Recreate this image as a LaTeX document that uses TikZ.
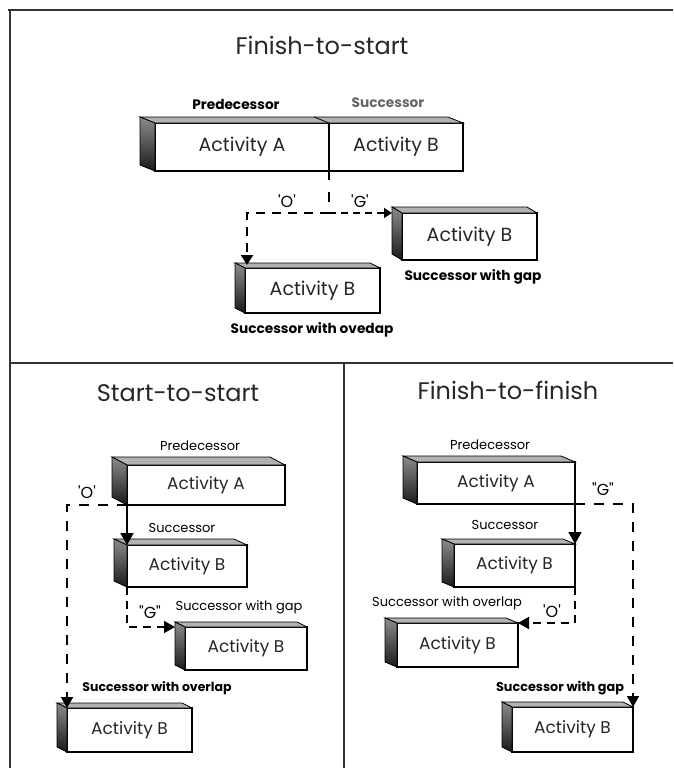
\documentclass[tikz,border=0pt]{standalone}
\usepackage{fontspec}
\setmainfont{Poppins}
\usetikzlibrary{arrows.meta}

% top and left faces of a 3-D activity bar; #1 front node, #2/#3 depth offset
\newcommand\barfaces[3]{%
  \draw[topface] (#1.north west) -- (#1.north east) -- ++(-#2,-#3)
    -- ([shift={(-#2,-#3)}]#1.north west) -- cycle;
  \draw[sideface] (#1.north west) -- (#1.south west) -- ++(-#2,-#3)
    -- ([shift={(-#2,-#3)}]#1.north west) -- cycle;
}

\begin{document}
\begin{tikzpicture}[x=1pt,y=-1pt,
  frame/.style={line width=1.6pt, black!80},
  front/.style={draw, line width=1.1pt, fill=white, inner sep=0pt, outer sep=0pt,
    font=\fontsize{17}{17}\selectfont, text=black!85},
  bigtext/.style={font=\fontsize{19}{19}\selectfont},
  topface/.style={draw, line width=0.8pt, fill=black!30},
  sideface/.style={draw, line width=0.8pt, top color=black!45, bottom color=black!90},
  title/.style={font=\fontsize{24}{24}\selectfont, text=black!85},
  lab/.style={font=\fontsize{13}{13}\selectfont, text=black},
  blab/.style={font=\bfseries\fontsize{13.7}{13.7}\selectfont},
  qlab/.style={font=\fontsize{16}{16}\selectfont, text=black},
  link/.style={line width=1.8pt, -{Triangle[width=13pt,length=12pt]}},
  olink/.style={line width=2.2pt, dash pattern=on 9pt off 7pt, -{Triangle[width=12pt,length=10pt]}},
  glink/.style={line width=1.3pt, dash pattern=on 7pt off 5pt, -{Triangle[width=10pt,length=8pt]}},
  dlink/.style={line width=1.9pt, dash pattern=on 10pt off 9pt, -{Triangle[width=12pt,length=11pt]}},
]
\useasboundingbox (0,0) rectangle (673,768);

% panel frames
\draw[frame] (8,10) -- (673,10);
\draw[frame] (10,10) -- (10,768);
\draw[frame] (10,363) -- (673,363);
\draw[frame] (344,363) -- (344,768);

% ---------------- Finish-to-start ----------------
\node[title] (fsT) at (322,45) {Finish-to-start};
\node[blab] (fsPre) at (236,104) {Predecessor};
\node[blab, text=black!60] (fsSuc) at (388,103) {Successor};

\node[front, bigtext, minimum width=174, minimum height=48] (fsA) at (242,147) {Activity A};
\node[front, bigtext, minimum width=134, minimum height=48] (fsB) at (396,147) {Activity B};
\draw[topface] (fsA.north west) -- (fsB.north east) -- ++(-15,-6)
  -- ([shift={(-15,-6)}]fsA.north west) -- cycle;
\draw[line width=0.8pt] (fsA.north east) -- ++(-15,-6);
\draw[sideface] (fsA.north west) -- (fsA.south west) -- ++(-15,-6)
  -- ([shift={(-15,-6)}]fsA.north west) -- cycle;

\node[front, bigtext, minimum width=135, minimum height=47] (fsG) at (469.5,236.5) {Activity B};
\barfaces{fsG}{10}{6}
\node[front, bigtext, minimum width=135, minimum height=45] (fsO) at (312.5,290.5) {Activity B};
\barfaces{fsO}{10}{5}

\node[qlab] (fsOq) at (287,201) {\textquotesingle O\textquotesingle};
\node[qlab] (fsGq) at (360,201) {\textquotesingle G\textquotesingle};
\node[blab] (fsGl) at (473,277) {Successor with gap};
\node[blab] (fsOl) at (312,330) {Successor with ovedap};

\coordinate (fsJ) at (fsA.south east |- fsG.north west);
\draw[line width=1.8pt, dash pattern=on 9pt off 12pt on 10pt off 11pt] (fsA.south east) -- (fsJ);
\draw[olink] (fsJ) -| ([shift={(2,-3)}]fsO.north west);
\draw[glink] (fsJ) -- ([shift={(-10,0)}]fsG.north west);

% ---------------- Start-to-start ----------------
\node[title] (ssT) at (178,393) {Start-to-start};
\node[lab] (ssPre) at (200,446) {Predecessor};
\node[front, minimum width=158, minimum height=40] (ssA) at (206,485) {Activity A};
\barfaces{ssA}{15}{8}
\node[lab] (ssSuc) at (182,528) {Successor};
\node[front, minimum width=120, minimum height=42] (ssB) at (187,566) {Activity B};
\barfaces{ssB}{13}{6}
\node[lab] (ssGl) at (239,607) {Successor with gap};
\node[front, minimum width=122, minimum height=43] (ssG) at (246,648.5) {Activity B};
\barfaces{ssG}{10}{5}
\node[blab, font=\bfseries\fontsize{12.5}{12.5}\selectfont] (ssOl) at (157,688)
  {Successor with overlap};
\node[front, minimum width=125, minimum height=44] (ssO) at (129.5,730) {Activity B};
\barfaces{ssO}{10}{5}

\node[qlab] (ssOq) at (87,492) {\textquotesingle O\textquotesingle};
\node[qlab] (ssGq) at (150,612) {\textquotedbl G\textquotedbl};

\draw[link] (ssA.south west) -- (ssB.north west);
\draw[dlink] (ssA.south west) -| (ssO.north west);
\draw[dlink, line width=1.6pt, dash pattern=on 8pt off 6pt] (ssB.south west) |- ([shift={(-10,0)}]ssG.north west);

% ---------------- Finish-to-finish ----------------
\node[title] (ffT) at (508,390) {Finish-to-finish};
\node[lab] (ffPre) at (490,445) {Predecessor};
\node[front, minimum width=158, minimum height=42] (ffA) at (496,483) {Activity A};
\barfaces{ffA}{14}{6}
\node[lab] (ffSuc) at (505,525) {Successor};
\node[front, minimum width=121, minimum height=43] (ffB) at (514.5,565.5) {Activity B};
\barfaces{ffB}{12}{5}
\node[lab] (ffOl) at (447,603) {Successor with overlap};
\node[front, minimum width=121, minimum height=44] (ffO) at (457.5,645) {Activity B};
\barfaces{ffO}{12}{5}
\node[blab, font=\bfseries\fontsize{12.8}{12.8}\selectfont] (ffGl) at (560,688) {Successor with gap};
\node[front, minimum width=121, minimum height=45] (ffG) at (572.5,729.5) {Activity B};
\barfaces{ffG}{10}{5}

\node[qlab] (ffGq) at (603,489) {\textquotedbl G\textquotedbl};
\node[qlab] (ffOq) at (552,611) {\textquotesingle O\textquotesingle};

\draw[link] (ffA.south east) -- (ffB.north east);
\draw[dlink] (ffA.south east) -| (ffG.north east);
\draw[dlink, line width=1.6pt, dash pattern=on 8pt off 6pt] (ffB.south east) |- (ffO.north east);

\end{tikzpicture}
\end{document}
